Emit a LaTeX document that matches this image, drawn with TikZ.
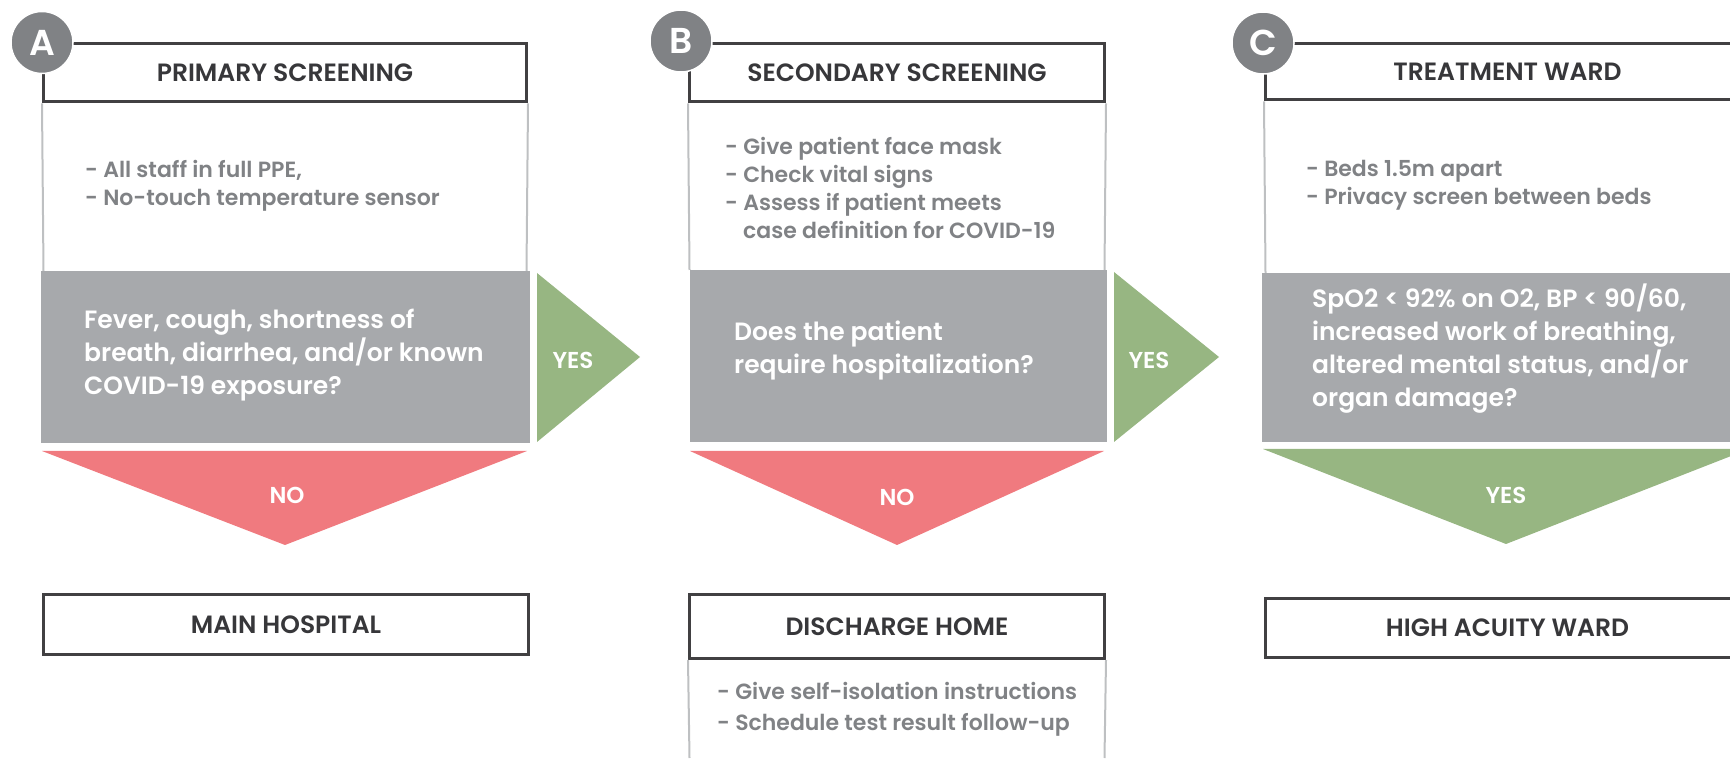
\documentclass[tikz,border=0pt]{standalone}
\usepackage{fontspec}
\usepackage{tikz}
\usetikzlibrary{positioning}
\definecolor{box-gray}{RGB}{167,169,172}
\definecolor{no-red}{RGB}{240,122,127}
\definecolor{yes-green}{RGB}{151,182,130}
\definecolor{badge-gray}{RGB}{128,130,133}
\definecolor{line-dark}{RGB}{65,64,66}
\definecolor{title-dark}{RGB}{55,55,58}
\definecolor{text-gray}{RGB}{128,130,133}
\definecolor{side-gray}{RGB}{190,192,194}
\setmainfont{Poppins}
\IfFontExistsTF{Poppins SemiBold}
  {\newfontfamily\bodyface{Poppins SemiBold}\newcommand\bodyfont{\bodyface}}
  {\newfontfamily\bodyface{Poppins}\newcommand\bodyfont{\bodyface\bfseries}}

\begin{document}
\begin{tikzpicture}[
    x=1pt, y=1pt,
    header/.style={rectangle, draw=line-dark, line width=3pt, fill=white, inner sep=0pt, text=title-dark, font=\bodyfont\fontsize{25}{28}\selectfont},
    outcome/.style={header},
    question/.style={rectangle, fill=box-gray, inner sep=0pt},
    bullets/.style={anchor=west, align=left, inner sep=0pt, text=text-gray, font=\bodyfont\fontsize{22}{28}\selectfont},
    qtext/.style={anchor=west, align=left, inner sep=0pt, text=white, font=\bodyfont\fontsize{25}{33}\selectfont},
    badge/.style={circle, fill=badge-gray, draw=white, line width=1.5pt, minimum size=62pt, inner sep=0pt, text=white, font=\bodyfont\fontsize{36}{36}\selectfont},
    sideline/.style={draw=side-gray, line width=2pt},
    answer/.style={text=white, inner sep=0pt, font=\bodyfont\fontsize{23}{23}\selectfont}
]
    \useasboundingbox (0,0) rectangle (1730,758);
    \clip (0,0) rectangle (1730,758);

    % Column A
    \node[header, minimum width=483pt, minimum height=58pt] (hA) at (285,685) {PRIMARY SCREENING};
    \draw[sideline] (hA.south west) -- (43.5,487);
    \draw[sideline] (hA.south east) -- (526.5,487);
    \node[question, minimum width=489pt, minimum height=172pt] (qA) at (285.5,401) {};
    \node[bullets] (bA) at (85,572) {- All staff in full PPE,\\- No-touch temperature sensor};
    \node[qtext] (tA) at (84,403) {Fever, cough, shortness of\\breath, diarrhea, and/or known\\COVID-19 exposure?};
    \fill[no-red] (42,307) -- (527,307) -- (285,213) -- cycle;
    \node[answer] (noA) at (287,263) {NO};
    \fill[yes-green] (537,485) -- (537,316) -- (640,401) -- cycle;
    \node[answer] (yesA) at (573,398) {YES};
    \node[outcome, minimum width=485pt, minimum height=60pt] (oA) at (286,133.5) {MAIN HOSPITAL};
    \node[badge] (cA) at (hA.north west) {A};

    % Column B
    \node[header, minimum width=415pt, minimum height=58pt] (hB) at (897,685) {SECONDARY SCREENING};
    \draw[sideline] (hB.south west) -- (689.5,488);
    \draw[sideline] (hB.south east) -- (1104.5,488);
    \node[question, minimum width=417pt, minimum height=172pt] (qB) at (898.5,402) {};
    \node[bullets] (bB) at (725,570) {- Give patient face mask\\- Check vital signs\\- Assess if patient meets\\\hspace*{18pt}case definition for COVID-19};
    \node[qtext] (tB) at (734,407) {Does the patient\\require hospitalization?};
    \fill[no-red] (690,307) -- (1104,307) -- (897,213) -- cycle;
    \node[answer] (noB) at (897,261) {NO};
    \fill[yes-green] (1114,486) -- (1114,316) -- (1219,401) -- cycle;
    \node[answer] (yesB) at (1149,398) {YES};
    \node[outcome, minimum width=415pt, minimum height=64pt] (oB) at (897,131.5) {DISCHARGE HOME};
    \draw[sideline] (oB.south west) -- (689.5,0);
    \draw[sideline] (oB.south east) -- (1104.5,0);
    \node[bullets, font=\bodyfont\fontsize{22}{30.5}\selectfont] (hmB) at (717,48.5) {- Give self-isolation instructions\\- Schedule test result follow-up};
    \node[badge] (cB) at (681,717) {B};

    % Column C
    \node[header, minimum width=484pt, minimum height=56pt] (hC) at (1507.5,686) {TREATMENT WARD};
    \draw[sideline] (hC.south west) -- (1265.5,485);
    \node[question, minimum width=490pt, minimum height=169pt] (qC) at (1507,400.5) {};
    \node[bullets] (bC) at (1306,572.5) {- Beds 1.5m apart\\- Privacy screen between beds};
    \node[qtext] (tC) at (1312,409) {SpO2 < 92\% on O2, BP < 90/60,\\increased work of breathing,\\altered mental status, and/or\\organ damage?};
    \fill[yes-green] (1263,309) -- (1749,309) -- (1506,214) -- cycle;
    \node[answer] (yesC) at (1506,263) {YES};
    \node[outcome, minimum width=484pt, minimum height=59pt] (oC) at (1507.5,130) {HIGH ACUITY WARD};
    \node[badge] (cC) at (1263,715) {C};
\end{tikzpicture}
\end{document}
